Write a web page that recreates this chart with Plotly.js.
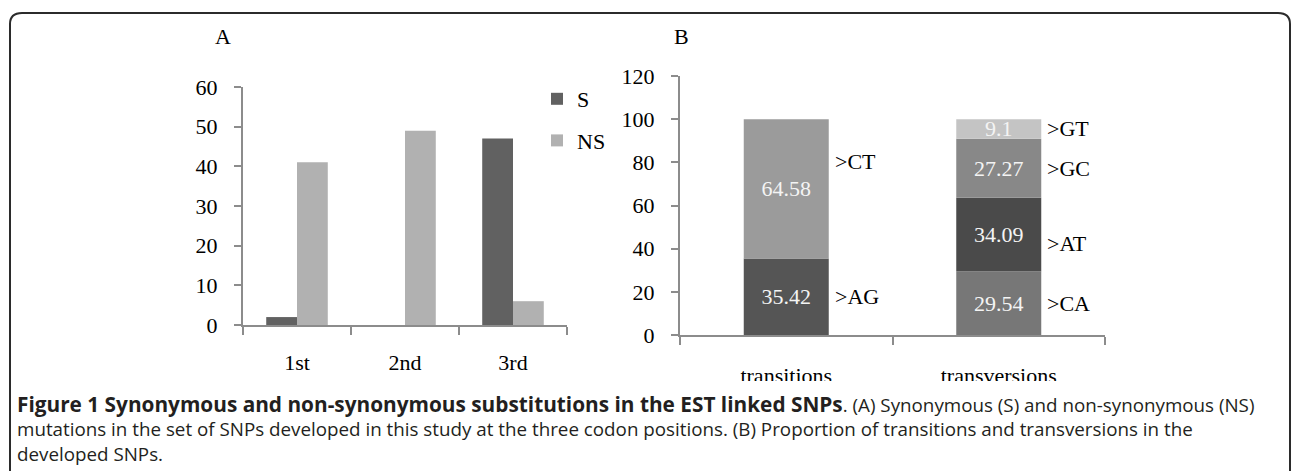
<!DOCTYPE html>
<html>
<head>
<meta charset="utf-8">
<script src="https://cdn.plot.ly/plotly-3.0.1.min.js"></script>
<style>
  html, body { margin: 0; padding: 0; background: #ffffff; }
  #chart { width: 1292px; height: 471px; }
</style>
</head>
<body>
<div id="chart"></div>
<script>
// ---------- data ----------
const positions = ['1st', '2nd', '3rd'];
const synonymous = [2, 0, 47];
const nonSynonymous = [41, 49, 6];

const substitutionTypes = ['transitions', 'transversions'];
const transitionNames = ['AG', 'CT'];
const transitionValues = [35.42, 64.58];
const transversionNames = ['CA', 'AT', 'GC', 'GT'];
const transversionValues = [29.54, 34.09, 27.27, 9.1];

// ---------- styles ----------
const W = 1292, H = 471;
const px = v => v / W;
const py = v => 1 - v / H;
const SERIF = 'Liberation Serif, Times New Roman, serif';
const SANS = 'Open Sans, Noto Sans, sans-serif';
const FS = 22;
const AXIS_COLOR = '#8c8c8c';
const segColors = { AG: '#555555', CT: '#9b9b9b', CA: '#777777', AT: '#4a4a4a', GC: '#888888', GT: '#c4c4c4' };
const labelShift = { CT: 27, AT: -9 };

const traces = [];
traces.push({
  type: 'bar', name: 'S', x: positions, y: synonymous,
  marker: { color: '#616161' }, legendgroup: 'S',
  xaxis: 'x', yaxis: 'y', hoverinfo: 'x+y+name'
});
traces.push({
  type: 'bar', name: 'NS', x: positions, y: nonSynonymous,
  marker: { color: '#b1b1b1' }, legendgroup: 'NS',
  xaxis: 'x', yaxis: 'y', hoverinfo: 'x+y+name'
});

const annotations = [];
function addStack(category, catIndex, names, values) {
  let base = 0;
  names.forEach((n, i) => {
    const v = values[i];
    traces.push({
      type: 'bar', name: '>' + n, x: [category], y: [v], base: [base],
      offset: -0.2, width: 0.4,
      marker: { color: segColors[n] },
      text: [String(v)], textposition: 'inside', insidetextanchor: 'middle',
      constraintext: 'none',
      textfont: { family: SERIF, size: FS, color: '#f4f4f4' },
      showlegend: false, xaxis: 'x2', yaxis: 'y2', hoverinfo: 'name+y'
    });
    annotations.push({
      xref: 'x2', yref: 'y2', x: catIndex + 0.2, y: base + v / 2,
      xanchor: 'left', yanchor: 'middle', xshift: 4, yshift: labelShift[n] || 0,
      text: '&gt;' + n, showarrow: false,
      font: { family: SERIF, size: FS, color: '#000000' }
    });
    base += v;
  });
}
addStack(substitutionTypes[0], 0, transitionNames, transitionValues);
addStack(substitutionTypes[1], 1, transversionNames, transversionValues);

// panel letters
annotations.push({ xref: 'paper', yref: 'paper', x: px(223), y: py(37), xanchor: 'center', yanchor: 'middle',
  text: 'A', showarrow: false, font: { family: SERIF, size: FS, color: '#000' } });
annotations.push({ xref: 'paper', yref: 'paper', x: px(681), y: py(37), xanchor: 'center', yanchor: 'middle',
  text: 'B', showarrow: false, font: { family: SERIF, size: FS, color: '#000' } });

// caption
const captionLines = [
  '<b><span style="font-size:20.8px">Figure 1 Synonymous and non-synonymous substitutions in the EST linked SNPs</span></b>. (A) Synonymous (S) and non-synonymous (NS)',
  'mutations in the set of SNPs developed in this study at the three codon positions. (B) Proportion of transitions and transversions in the',
  'developed SNPs.'
];
const captionY = [404, 429, 454];
captionLines.forEach((t, i) => {
  annotations.push({ xref: 'paper', yref: 'paper', x: px(15), y: py(captionY[i]), xanchor: 'left', yanchor: 'middle',
    text: t, showarrow: false, font: { family: SANS, size: 18.8, color: '#231f20' } });
});

const axisBase = {
  showline: true, linecolor: AXIS_COLOR, linewidth: 2,
  ticks: 'outside', tickcolor: AXIS_COLOR, tickwidth: 2,
  showgrid: false, zeroline: false, fixedrange: true,
  tickfont: { family: SERIF, size: FS, color: '#000' }
};

const layout = {
  width: W, height: H,
  margin: { l: 0, r: 0, t: 0, b: 0 },
  paper_bgcolor: '#ffffff', plot_bgcolor: 'rgba(0,0,0,0)',
  barmode: 'group', bargap: 0.43, bargroupgap: 0,
  showlegend: true,
  legend: {
    x: px(537), y: py(78), xanchor: 'left', yanchor: 'top',
    font: { family: SERIF, size: FS, color: '#000' },
    tracegroupgap: 10, bgcolor: 'rgba(0,0,0,0)', traceorder: 'grouped'
  },
  xaxis: Object.assign({}, axisBase, {
    domain: [px(243), px(567)], type: 'category', tickson: 'boundaries', ticklen: 8,
    ticklabelstandoff: 17, anchor: 'y'
  }),
  yaxis: Object.assign({}, axisBase, {
    domain: [py(325), py(87)], range: [0, 60], dtick: 10, ticklen: 7,
    ticklabelstandoff: 12, anchor: 'x'
  }),
  xaxis2: Object.assign({}, axisBase, {
    domain: [px(680), px(1105)], type: 'category', tickson: 'boundaries', ticklen: 8,
    ticklabelstandoff: 20, anchor: 'y2'
  }),
  yaxis2: Object.assign({}, axisBase, {
    domain: [py(335), py(76)], range: [0, 120], dtick: 20, ticklen: 7,
    ticklabelstandoff: 12, anchor: 'x2'
  }),
  annotations: annotations,
  shapes: [
    { type: 'rect', xref: 'paper', yref: 'paper', x0: 0, x1: 1, y0: 0, y1: py(381),
      fillcolor: '#ffffff', line: { width: 0 }, layer: 'above' },
    { type: 'path', xref: 'paper', yref: 'paper', layer: 'above',
      path: 'M ' + px(10) + ',' + py(471) + ' L ' + px(10) + ',' + py(24) +
            ' Q ' + px(10) + ',' + py(13) + ' ' + px(22) + ',' + py(13) +
            ' L ' + px(1278) + ',' + py(13) +
            ' Q ' + px(1290) + ',' + py(13) + ' ' + px(1290) + ',' + py(24) +
            ' L ' + px(1290) + ',' + py(471),
      line: { color: '#2b2b2b', width: 2 } }
  ]
};

Plotly.newPlot('chart', traces, layout, { displayModeBar: false, staticPlot: true });
</script>
</body>
</html>
